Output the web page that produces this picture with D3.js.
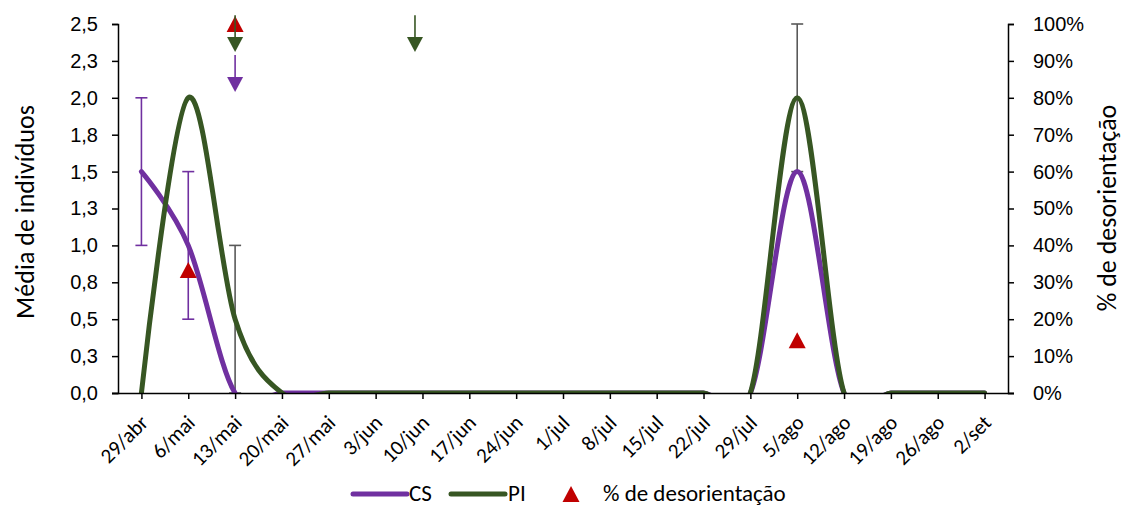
<!DOCTYPE html>
<html>
<head>
<meta charset="utf-8">
<script src="https://cdn.jsdelivr.net/npm/d3@7"></script>
<style>
  html, body { margin: 0; padding: 0; background: #fff; }
  svg { display: block; font-family: Carlito, Calibri, Lato, "Open Sans", sans-serif; }
</style>
</head>
<body>
<svg id="chart" width="1124" height="506"></svg>
<script>
// Weekly sampling dates
const categories = ["29/abr","6/mai","13/mai","20/mai","27/mai","3/jun","10/jun","17/jun","24/jun","1/jul","8/jul","15/jul","22/jul","29/jul","5/ago","12/ago","19/ago","26/ago","2/set"];

// Mean number of individuals per date
const csValues = [1.5, 1.0, 0, 0, 0, 0, 0, 0, 0, 0, 0, 0, 0, 0, 1.5, 0, 0, 0, 0];
const piValues = [0, 2.0, 0.5, 0, 0, 0, 0, 0, 0, 0, 0, 0, 0, 0, 2.0, 0, 0, 0, 0];

// Error amounts (±)
const csErrors = [0.5, 0.5, 0, 0, 0, 0, 0, 0, 0, 0, 0, 0, 0, 0, 0, 0, 0, 0, 0];
const piErrors = [0, 0, 0.5, 0, 0, 0, 0, 0, 0, 0, 0, 0, 0, 0, 0.5, 0, 0, 0, 0];

// % of disorientation (right axis); null = not recorded
const disorientation = [null, 0.3333, 1.0, null, null, null, null, null, null, null, null, null, null, null, 0.143, null, null, null, null];

// Axis ticks
const leftTickValues = [0, 0.25, 0.5, 0.75, 1.0, 1.25, 1.5, 1.75, 2.0, 2.25, 2.5];
const leftTickLabels = ["0,0","0,3","0,5","0,8","1,0","1,3","1,5","1,8","2,0","2,3","2,5"];
const rightTickValues = [0, 0.1, 0.2, 0.3, 0.4, 0.5, 0.6, 0.7, 0.8, 0.9, 1.0];
const rightTickLabels = ["0%","10%","20%","30%","40%","50%","60%","70%","80%","90%","100%"];

// Downward arrow markers (category, fractional step offset, value span on left axis)
const arrowCats    = ["13/mai", "13/mai", "10/jun"];
const arrowOffsets = [0, 0, -0.16];
const arrowFrom    = [2.56, 2.29, 2.56];
const arrowTo      = [2.31, 2.04, 2.31];
const arrowSeries  = ["PI", "CS", "PI"];

const COLORS = { CS: "#7030A0", PI: "#375623", deso: "#C00000", err: "#595959", axis: "#000" };

const svg = d3.select("#chart");
const plot = { left: 118, right: 1008, top: 24, bottom: 393 };

const x = d3.scalePoint().domain(categories).range([plot.left, plot.right]).padding(0.5);
const yL = d3.scaleLinear().domain([0, 2.5]).range([plot.bottom, plot.top]);
const yR = d3.scaleLinear().domain([0, 1]).range([plot.bottom, plot.top]);

svg.append("defs").append("clipPath").attr("id", "plotClip")
  .append("rect")
  .attr("x", plot.left).attr("y", plot.top)
  .attr("width", plot.right - plot.left).attr("height", plot.bottom - plot.top);

// Error bars
function drawErrors(values, errors, color) {
  const g = svg.append("g").attr("stroke", color).attr("stroke-width", 1.6).attr("fill", "none");
  categories.forEach((c, i) => {
    const e = errors[i];
    if (!e) return;
    const cx = x(c);
    const lo = yL(Math.max(0, values[i] - e));
    const hi = yL(values[i] + e);
    g.append("line").attr("x1", cx).attr("x2", cx).attr("y1", lo).attr("y2", hi);
    g.append("line").attr("x1", cx - 6).attr("x2", cx + 6).attr("y1", hi).attr("y2", hi);
    g.append("line").attr("x1", cx - 6).attr("x2", cx + 6).attr("y1", lo).attr("y2", lo);
  });
}

drawErrors(piValues, piErrors, COLORS.err);
drawErrors(csValues, csErrors, COLORS.CS);

// Smoothed series lines
const line = d3.line()
  .x((d, i) => x(categories[i]))
  .y(d => yL(d))
  .curve(d3.curveCardinal.tension(0));

const lines = svg.append("g").attr("clip-path", "url(#plotClip)");
lines.append("path").datum(csValues)
  .attr("d", line).attr("fill", "none")
  .attr("stroke", COLORS.CS).attr("stroke-width", 5).attr("stroke-linejoin", "round").attr("stroke-linecap", "round");
lines.append("path").datum(piValues)
  .attr("d", line).attr("fill", "none")
  .attr("stroke", COLORS.PI).attr("stroke-width", 5).attr("stroke-linejoin", "round").attr("stroke-linecap", "round");

// Triangle marker path centred on (0,0)
function trianglePath(w, h) {
  return `M0,${-h / 2}L${w / 2},${h / 2}L${-w / 2},${h / 2}Z`;
}

// Disorientation markers
svg.append("g").selectAll("path")
  .data(categories.map((c, i) => ({ c, v: disorientation[i] })).filter(d => d.v !== null))
  .join("path")
  .attr("d", trianglePath(17, 16))
  .attr("transform", d => `translate(${x(d.c)},${yR(d.v)})`)
  .attr("fill", COLORS.deso);

// Arrow markers
const step = x.step();
const arrows = svg.append("g");
arrowCats.forEach((c, i) => {
  const ax = x(c) + arrowOffsets[i] * step;
  const y0 = yL(arrowFrom[i]);
  const yTip = yL(arrowTo[i]);
  const headH = 15;
  const col = COLORS[arrowSeries[i]];
  arrows.append("line")
    .attr("x1", ax).attr("x2", ax).attr("y1", y0).attr("y2", yTip - headH + 1)
    .attr("stroke", col).attr("stroke-width", 1.6);
  arrows.append("path")
    .attr("d", `M${ax - 8},${yTip - headH}L${ax + 8},${yTip - headH}L${ax},${yTip}Z`)
    .attr("fill", col);
});

// Axes
const fontSize = 20;
const leftAxis = d3.axisLeft(yL).tickValues(leftTickValues)
  .tickFormat((d, i) => leftTickLabels[i]).tickSizeOuter(0).tickSize(6).tickPadding(14);
const gL = svg.append("g").attr("transform", `translate(${plot.left},0)`).call(leftAxis);

const rightAxis = d3.axisRight(yR).tickValues(rightTickValues)
  .tickFormat((d, i) => rightTickLabels[i]).tickSizeOuter(0).tickSize(6).tickPadding(19);
const gR = svg.append("g").attr("transform", `translate(${plot.right},0)`).call(rightAxis);

const bottomAxis = d3.axisBottom(x).tickSizeOuter(0).tickSize(6).tickFormat("");
const gB = svg.append("g").attr("transform", `translate(0,${plot.bottom})`).call(bottomAxis);
gB.select(".domain").attr("d", `M${plot.left - 6},0.5H${plot.right + 6}`);

[gL, gR, gB].forEach(g => {
  g.select(".domain").attr("stroke", COLORS.axis).attr("stroke-width", 1.5);
  g.selectAll(".tick line").attr("stroke", COLORS.axis).attr("stroke-width", 1.5);
  g.selectAll(".tick text").attr("font-size", fontSize).attr("fill", "#000").attr("font-family", null);
});

// Rotated date labels
svg.append("g").selectAll("text")
  .data(categories)
  .join("text")
  .attr("transform", d => `translate(${x(d) + 8},${plot.bottom + 31}) rotate(-45)`)
  .attr("text-anchor", "end")
  .attr("font-size", 21)
  .attr("fill", "#000")
  .text(d => d);

// Axis titles
svg.append("text")
  .attr("transform", `translate(34,212) rotate(-90)`)
  .attr("text-anchor", "middle")
  .attr("font-size", 26)
  .text("Média de indivíduos");
svg.append("text")
  .attr("transform", `translate(1116,208) rotate(-90)`)
  .attr("text-anchor", "middle")
  .attr("font-size", 26)
  .text("% de desorientação");

// Legend
const legendFont = 23;
const legend = svg.append("g").attr("transform", "translate(0,494)");
legend.append("line").attr("x1", 353).attr("x2", 407).attr("y1", 0).attr("y2", 0)
  .attr("stroke", COLORS.CS).attr("stroke-width", 5).attr("stroke-linecap", "round");
legend.append("text").attr("x", 409).attr("y", 7).attr("font-size", legendFont).text("CS");
legend.append("line").attr("x1", 451).attr("x2", 505).attr("y1", 0).attr("y2", 0)
  .attr("stroke", COLORS.PI).attr("stroke-width", 5).attr("stroke-linecap", "round");
legend.append("text").attr("x", 508).attr("y", 7).attr("font-size", legendFont).text("PI");
legend.append("path").attr("d", trianglePath(17, 16))
  .attr("transform", "translate(571,0)").attr("fill", COLORS.deso);
legend.append("text").attr("x", 603).attr("y", 7).attr("font-size", legendFont).text("% de desorientação");
</script>
</body>
</html>
